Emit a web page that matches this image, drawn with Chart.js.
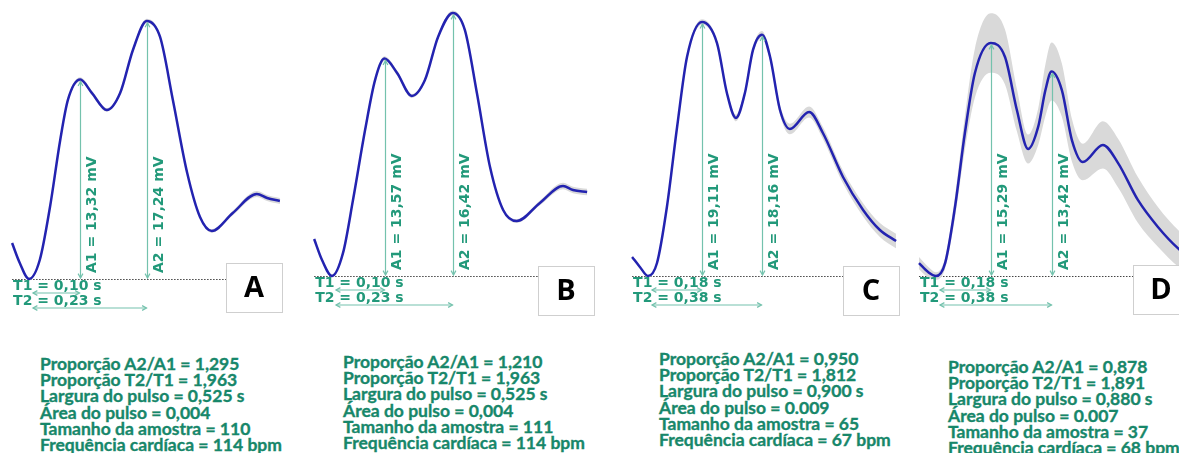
<!DOCTYPE html>
<html lang="pt-BR">
<head>
<meta charset="UTF-8">
<title>Formas de onda do pulso</title>
<script src="https://cdn.jsdelivr.net/npm/chart.js@4.4.1/dist/chart.umd.min.js"></script>
<style>
    body { margin: 0; width: 1179px; height: 453px; background: #ffffff; position: relative; overflow: hidden; }
    canvas { position: absolute; top: 0; }
    .resumo { position: absolute; font-family: 'Lato', sans-serif; font-weight: 700; font-size: 17.5px; line-height: 16.2px; color: #17876a; white-space: nowrap; -webkit-text-stroke: 0.35px #17876a; }
</style>
</head>
<body>
<canvas id="graficoA" width="300" height="330" style="left:0px"></canvas>
<canvas id="graficoB" width="310" height="330" style="left:300px"></canvas>
<canvas id="graficoC" width="295" height="330" style="left:610px"></canvas>
<canvas id="graficoD" width="274" height="330" style="left:905px"></canvas>
<div class="resumo" id="resumoA" style="left:40px; top:356px"></div>
<div class="resumo" id="resumoB" style="left:343px; top:354px"></div>
<div class="resumo" id="resumoC" style="left:659px; top:351px"></div>
<div class="resumo" id="resumoD" style="left:948px; top:359px"></div>
<script>
// Dados: tempo (s) x amplitude (mV), com desvio da banda cinza
const tempoA  = [-0.033, -0.018, 0, 0.021, 0.041, 0.061, 0.076, 0.10, 0.123, 0.152, 0.178, 0.203, 0.23, 0.256, 0.281, 0.309, 0.334, 0.357, 0.398, 0.445, 0.465, 0.490];
const pulsoA  = [2.40, 1.07, 0, 1.27, 4.81, 9.29, 11.96, 13.32, 12.42, 11.29, 12.42, 15.30, 17.24, 16.17, 11.96, 7.08, 4.14, 3.21, 4.41, 5.68, 5.41, 5.21];
const desvioA = [0.1, 0.1, 0.1, 0.1, 0.1, 0.1, 0.12, 0.15, 0.15, 0.12, 0.12, 0.12, 0.15, 0.12, 0.1, 0.1, 0.1, 0.12, 0.15, 0.2, 0.2, 0.2];

const tempoB  = [-0.034, -0.019, 0, 0.021, 0.040, 0.063, 0.082, 0.10, 0.124, 0.152, 0.177, 0.202, 0.23, 0.253, 0.276, 0.301, 0.326, 0.352, 0.396, 0.44, 0.459, 0.486];
const pulsoB  = [2.31, 1.00, 0, 1.44, 4.74, 9.11, 12.23, 13.57, 12.67, 11.24, 12.23, 14.92, 16.42, 15.36, 11.42, 6.80, 4.12, 3.43, 4.56, 5.62, 5.37, 5.24];
const desvioB = [0.1, 0.1, 0.1, 0.1, 0.1, 0.1, 0.12, 0.15, 0.15, 0.12, 0.12, 0.12, 0.15, 0.12, 0.1, 0.1, 0.1, 0.12, 0.15, 0.2, 0.2, 0.2];

const tempoC  = [-0.053, -0.027, 0, 0.030, 0.063, 0.097, 0.130, 0.18, 0.230, 0.263, 0.293, 0.323, 0.350, 0.38, 0.407, 0.440, 0.473, 0.537, 0.583, 0.650, 0.717, 0.773, 0.827];
const pulsoC  = [1.43, 0.68, 0, 0.98, 5.19, 11.21, 16.48, 19.11, 17.53, 13.77, 11.89, 13.77, 17.01, 18.16, 16.48, 12.49, 11.06, 12.34, 10.76, 7.45, 4.97, 3.46, 2.63];
const desvioC = [0.1, 0.1, 0.1, 0.1, 0.12, 0.15, 0.18, 0.2, 0.2, 0.22, 0.25, 0.25, 0.25, 0.28, 0.3, 0.35, 0.4, 0.42, 0.45, 0.48, 0.5, 0.52, 0.55];

const tempoD  = [-0.056, -0.026, 0, 0.030, 0.0625, 0.095, 0.128, 0.18, 0.227, 0.266, 0.303, 0.336, 0.36, 0.38, 0.414, 0.447, 0.483, 0.549, 0.599, 0.664, 0.730, 0.799, 0.84];
const pulsoD  = [0.85, 0.26, 0, 0.85, 4.53, 9.38, 13.32, 15.29, 14.37, 10.89, 8.33, 9.78, 12.2, 13.42, 12.20, 8.92, 7.48, 8.60, 7.41, 4.99, 3.22, 1.77, 1.2];
const desvioD = [0.4, 0.35, 0.25, 0.35, 0.7, 1.1, 1.6, 1.95, 1.8, 1.4, 0.95, 1.2, 1.7, 1.9, 1.75, 1.4, 1.2, 1.55, 1.6, 1.5, 1.3, 1.2, 1.2];

// Marcadores de cada painel
const letras = ['A', 'B', 'C', 'D'];
const amplitudeA1 = [13.32, 13.57, 19.11, 15.29];
const amplitudeA2 = [17.24, 16.42, 18.16, 13.42];
const tempoT1 = [0.10, 0.10, 0.18, 0.18];
const tempoT2 = [0.23, 0.23, 0.38, 0.38];

// Texto abaixo de cada painel
const resumoA = ['Proporção A2/A1 = 1,295', 'Proporção T2/T1 = 1,963', 'Largura do pulso = 0,525 s', 'Área do pulso = 0,004', 'Tamanho da amostra = 110', 'Frequência cardíaca = 114 bpm'];
const resumoB = ['Proporção A2/A1 = 1,210', 'Proporção T2/T1 = 1,963', 'Largura do pulso = 0,525 s', 'Área do pulso = 0,004', 'Tamanho da amostra = 111', 'Frequência cardíaca = 114 bpm'];
const resumoC = ['Proporção A2/A1 = 0,950', 'Proporção T2/T1 = 1,812', 'Largura do pulso = 0,900 s', 'Área do pulso = 0.009', 'Tamanho da amostra = 65', 'Frequência cardíaca = 67 bpm'];
const resumoD = ['Proporção A2/A1 = 0,878', 'Proporção T2/T1 = 1,891', 'Largura do pulso = 0,880 s', 'Área do pulso = 0.007', 'Tamanho da amostra = 37', 'Frequência cardíaca = 68 bpm'];

document.addEventListener('DOMContentLoaded', function() {
    const tempos = [tempoA, tempoB, tempoC, tempoD];
    const pulsos = [pulsoA, pulsoB, pulsoC, pulsoD];
    const desvios = [desvioA, desvioB, desvioC, desvioD];
    const resumos = [resumoA, resumoB, resumoC, resumoD];

    // Escala de cada painel em pixels (posição do mínimo, linha de base, px por s e por mV)
    const paineis = [
        { largura: 300, minX: 29, base: 279, pxSeg: 512, pxMv: 14.97, caixaX: 226, caixaY: 263 },
        { largura: 310, minX: 32, base: 276, pxSeg: 525, pxMv: 16.02, caixaX: 238, caixaY: 266 },
        { largura: 295, minX: 38, base: 276, pxSeg: 300, pxMv: 13.29, caixaX: 233, caixaY: 266 },
        { largura: 274, minX: 31, base: 276, pxSeg: 304, pxMv: 15.24, caixaX: 228, caixaY: 265 }
    ];
    const altura = 330;

    const corRotulo = '#22997a';
    const corSeta = '#74c2ad';
    const fonteRotulo = 'bold 14px "DejaVu Sans"';

    const virgula = (v, casas) => v.toFixed(casas).replace('.', ',');

    // Seta com ponta nas duas extremidades
    function seta(ctx, xa, ya, xb, yb) {
        const ang = Math.atan2(yb - ya, xb - xa);
        const tam = 5, abre = 0.5;
        ctx.beginPath();
        ctx.moveTo(xa, ya);
        ctx.lineTo(xb, yb);
        ctx.stroke();
        [[xb, yb, ang], [xa, ya, ang + Math.PI]].forEach(([x, y, a]) => {
            ctx.beginPath();
            ctx.moveTo(x - tam * Math.cos(a - abre), y - tam * Math.sin(a - abre));
            ctx.lineTo(x, y);
            ctx.lineTo(x - tam * Math.cos(a + abre), y - tam * Math.sin(a + abre));
            ctx.stroke();
        });
    }

    const anotacoes = {
        id: 'anotacoes',
        beforeDatasetsDraw(chart, args, opts) {
            const i = opts.indice;
            const ctx = chart.ctx;
            const xs = chart.scales.x, ys = chart.scales.y;
            const base = Math.round(ys.getPixelForValue(0)) + 0.5;
            ctx.save();
            ctx.strokeStyle = '#444444';
            ctx.lineWidth = 1;
            ctx.setLineDash([1.5, 1.5]);
            ctx.beginPath();
            ctx.moveTo(xs.getPixelForValue(tempos[i][0]), base);
            ctx.lineTo(paineis[i].caixaX, base);
            ctx.stroke();
            ctx.restore();
        },
        afterDatasetsDraw(chart, args, opts) {
            const i = opts.indice;
            const ctx = chart.ctx;
            const xs = chart.scales.x, ys = chart.scales.y;
            const base = ys.getPixelForValue(0);
            const x0 = xs.getPixelForValue(0);
            const x1 = Math.round(xs.getPixelForValue(tempoT1[i])) + 0.5;
            const x2 = Math.round(xs.getPixelForValue(tempoT2[i])) + 0.5;
            const xIni = xs.getPixelForValue(tempos[i][0]);

            ctx.save();
            ctx.strokeStyle = corSeta;
            ctx.lineWidth = 1.2;
            seta(ctx, x1, base - 1, x1, ys.getPixelForValue(amplitudeA1[i]) + 2);
            seta(ctx, x2, base - 1, x2, ys.getPixelForValue(amplitudeA2[i]) + 2);
            seta(ctx, x0 + 4, base + 14, x1 - 1, base + 14);
            seta(ctx, x0 + 4, base + 29, x2 - 1, base + 29);

            // Rótulos verticais das amplitudes
            ctx.fillStyle = corRotulo;
            ctx.font = fonteRotulo;
            ctx.textBaseline = 'alphabetic';
            ctx.textAlign = 'left';
            [[x1, amplitudeA1[i], 'A1'], [x2, amplitudeA2[i], 'A2']].forEach(([x, v, nome]) => {
                ctx.save();
                ctx.translate(x + 15, base - 6);
                ctx.rotate(-Math.PI / 2);
                ctx.fillText(nome + ' = ' + virgula(v, 2) + ' mV', 0, 0);
                ctx.restore();
            });

            // Rótulos dos tempos
            ctx.fillText('T1 = ' + virgula(tempoT1[i], 2) + ' s', xIni + 1, base + 11);
            ctx.fillText('T2 = ' + virgula(tempoT2[i], 2) + ' s', xIni + 1, base + 26);

            // Caixa com a letra do painel
            const p = paineis[i];
            ctx.fillStyle = '#ffffff';
            ctx.fillRect(p.caixaX, p.caixaY, 56, 49);
            ctx.strokeStyle = '#cfcfcf';
            ctx.lineWidth = 1;
            ctx.strokeRect(p.caixaX + 0.5, p.caixaY + 0.5, 56, 49);
            ctx.fillStyle = '#000000';
            ctx.font = 'bold 29px "Open Sans"';
            ctx.textAlign = 'center';
            ctx.textBaseline = 'middle';
            ctx.fillText(letras[i], p.caixaX + 28, p.caixaY + 26);
            ctx.restore();
        }
    };

    ['graficoA', 'graficoB', 'graficoC', 'graficoD'].forEach((id, i) => {
        const canvas = document.getElementById(id);
        if (!canvas) {
            console.error('Canvas não encontrado: ' + id);
            return;
        }
        const p = paineis[i];
        const pontos = arr => arr.map((v, k) => ({ x: tempos[i][k], y: v }));
        const superior = pulsos[i].map((v, k) => v + desvios[i][k]);
        const inferior = pulsos[i].map((v, k) => v - desvios[i][k]);

        new Chart(canvas.getContext('2d'), {
            type: 'line',
            data: {
                datasets: [
                    { data: pontos(inferior), order: 2, borderColor: 'transparent', borderWidth: 0, pointRadius: 0, fill: false },
                    { data: pontos(superior), order: 1, borderColor: 'transparent', borderWidth: 0, pointRadius: 0, fill: '-1', backgroundColor: '#d9d9d9' },
                    { data: pontos(pulsos[i]), order: 0, borderColor: '#2323b0', borderWidth: 2.5, pointRadius: 0, fill: false }
                ]
            },
            options: {
                responsive: false,
                animation: false,
                events: [],
                layout: { padding: 0 },
                elements: { line: { cubicInterpolationMode: 'monotone' } },
                plugins: {
                    legend: { display: false },
                    tooltip: { enabled: false },
                    anotacoes: { indice: i }
                },
                scales: {
                    x: { type: 'linear', display: false, min: -p.minX / p.pxSeg, max: (p.largura - p.minX) / p.pxSeg },
                    y: { display: false, min: (p.base - altura) / p.pxMv, max: p.base / p.pxMv }
                }
            },
            plugins: [anotacoes]
        });

        document.getElementById('resumo' + letras[i]).innerHTML = resumos[i].join('<br>');
    });
});
</script>
</body>
</html>
